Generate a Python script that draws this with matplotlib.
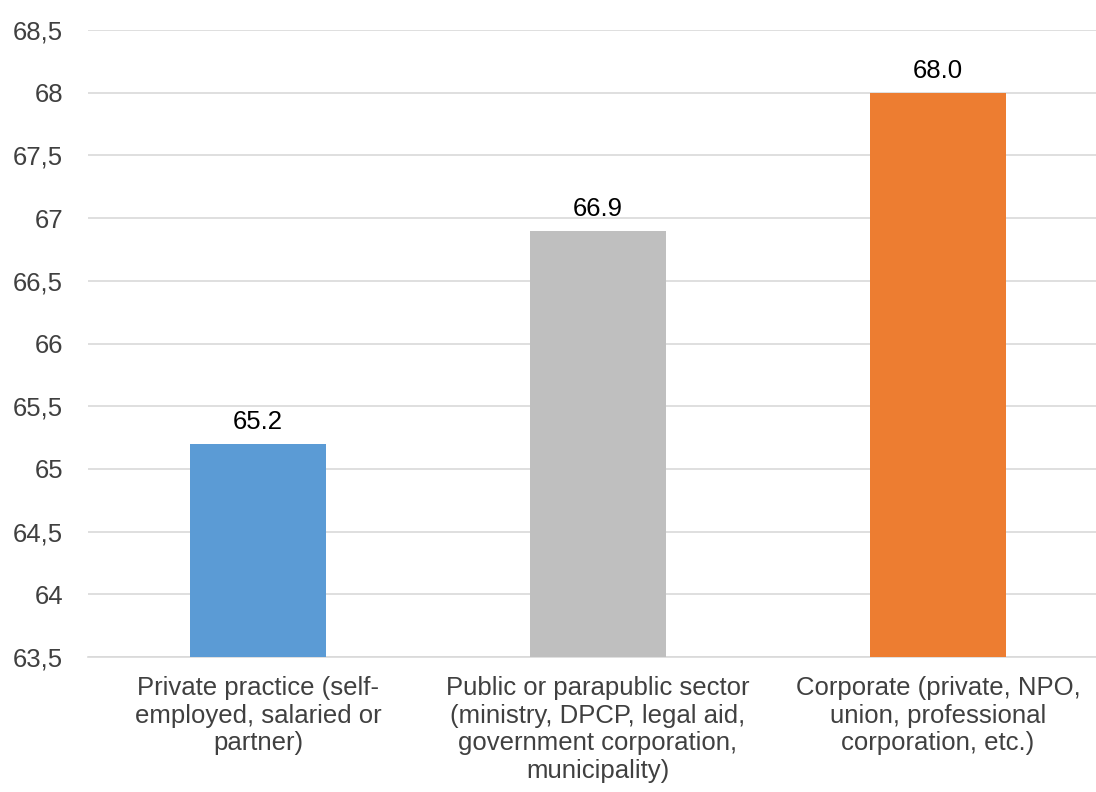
import matplotlib.pyplot as plt
import numpy as np

categories = [
    "Private practice (self-\nemployed, salaried or\npartner)",
    "Public or parapublic sector\n(ministry, DPCP, legal aid,\ngovernment corporation,\nmunicipality)",
    "Corporate (private, NPO,\nunion, professional\ncorporation, etc.)",
]
values = [65.2, 66.9, 68.0]
colors = ["#5B9BD5", "#BFBFBF", "#ED7D31"]
yticks = [63.5, 64, 64.5, 65, 65.5, 66, 66.5, 67, 67.5, 68, 68.5]
ytick_labels = ["63,5", "64", "64,5", "65", "65,5", "66", "66,5", "67", "67,5", "68", "68,5"]

plt.rcParams['font.family'] = ['Liberation Sans', 'DejaVu Sans']
text_color = "#404040"
fs = 18.5

fig = plt.figure(figsize=(10.96, 7.92), dpi=100)
# axes runs past the right edge of the figure, like the reference
ax = fig.add_axes([88 / 1096, 1 - 657 / 792, 1020 / 1096, 627 / 792])

x = np.arange(len(categories))
bars = ax.bar(x, values, width=0.4, color=colors, bottom=0, zorder=3)

for xi, v in zip(x, values):
    ax.text(xi, v + 0.08, f"{v:.1f}", ha='center', va='bottom', fontsize=fs, color="#000000")

ax.set_xlim(-0.5, 2.5)
ax.set_ylim(63.5, 68.5)
ax.set_yticks(yticks)
ax.set_yticklabels(ytick_labels, fontsize=fs, color=text_color)
ax.set_xticks(x)
ax.set_xticklabels(categories, fontsize=fs, color=text_color, linespacing=1.18)

ax.grid(axis='y', color="#D9D9D9", linewidth=1.2, zorder=0)
ax.tick_params(axis='both', length=0)
ax.tick_params(axis='y', pad=18)
ax.tick_params(axis='x', pad=14)
for s in ['top', 'right', 'left']:
    ax.spines[s].set_visible(False)
ax.spines['bottom'].set_color("#D9D9D9")
ax.spines['bottom'].set_linewidth(1.2)

fig.savefig("out.png", dpi=100)
plt.close(fig)
